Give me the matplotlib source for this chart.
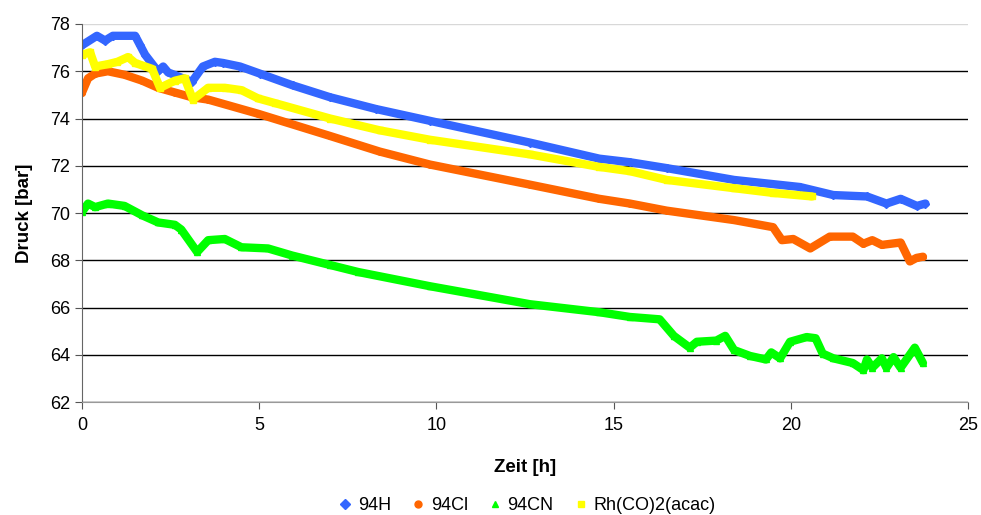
import matplotlib.pyplot as plt
from matplotlib.lines import Line2D

plt.rcParams["font.family"] = ["Liberation Sans", "DejaVu Sans"]

# readings, time in h, pressure in bar
t_94h = [0, 0.42, 0.65, 0.87, 1.5, 1.64, 1.78, 2.14, 2.29, 2.43, 2.62, 3.1, 3.41, 3.75,
         3.98, 4.46, 5.02, 5.95, 7.0, 8.3, 9.82, 12.64, 14.6, 15.46, 16.5, 18.4, 20.26,
         21.2, 22.15, 22.7, 23.1, 23.56, 23.8]
p_94h = [77.1, 77.5, 77.3, 77.5, 77.5, 77.1, 76.7, 76.0, 76.2, 75.95, 75.84, 75.55, 76.2,
         76.4, 76.35, 76.2, 75.9, 75.4, 74.9, 74.4, 73.9, 72.98, 72.3, 72.15, 71.9, 71.4,
         71.1, 70.76, 70.7, 70.4, 70.6, 70.3, 70.4]

t_94cl = [0, 0.17, 0.37, 0.73, 1.2, 1.7, 2.15, 2.62, 3.1, 3.56, 4.03, 4.97, 7.0, 8.4,
          9.82, 12.64, 14.6, 15.46, 16.5, 18.4, 19.5, 19.75, 20.07, 20.55, 21.1, 21.75,
          22.05, 22.3, 22.57, 23.1, 23.36, 23.55, 23.73]
p_94cl = [75.1, 75.7, 75.9, 76.0, 75.85, 75.6, 75.3, 75.1, 74.9, 74.8, 74.6, 74.2, 73.26,
          72.6, 72.05, 71.2, 70.6, 70.4, 70.1, 69.7, 69.4, 68.85, 68.9, 68.5, 69.0, 69.0,
          68.7, 68.85, 68.65, 68.75, 67.95, 68.1, 68.15]

t_94cn = [0, 0.17, 0.37, 0.73, 1.2, 1.7, 2.15, 2.62, 2.8, 3.25, 3.56, 4.03, 4.5, 5.25,
          5.93, 7.0, 7.8, 9.82, 12.64, 14.6, 15.46, 16.3, 16.7, 17.15, 17.35, 17.9, 18.15,
          18.4, 18.85, 19.3, 19.45, 19.7, 19.98, 20.45, 20.7, 20.9, 21.2, 21.75, 22.05,
          22.15, 22.3, 22.57, 22.7, 22.9, 23.1, 23.5, 23.73]
p_94cn = [70.05, 70.4, 70.25, 70.4, 70.3, 69.9, 69.6, 69.5, 69.3, 68.35, 68.85, 68.9,
          68.55, 68.5, 68.2, 67.8, 67.5, 66.9, 66.14, 65.8, 65.6, 65.5, 64.8, 64.3, 64.55,
          64.6, 64.8, 64.2, 63.95, 63.8, 64.1, 63.85, 64.55, 64.75, 64.7, 64.05, 63.85,
          63.65, 63.35, 63.8, 63.45, 63.85, 63.45, 63.9, 63.45, 64.3, 63.65]

t_rh = [0, 0.23, 0.37, 0.73, 1.0, 1.3, 1.5, 1.98, 2.2, 2.62, 2.9, 3.13, 3.56, 4.03, 4.5,
        4.97, 5.45, 7.0, 8.4, 9.82, 12.64, 14.6, 15.46, 16.5, 18.4, 19.5, 20.6]
p_rh = [76.7, 76.8, 76.2, 76.3, 76.4, 76.6, 76.35, 76.1, 75.3, 75.6, 75.7, 74.8, 75.3,
        75.3, 75.2, 74.85, 74.65, 74.0, 73.5, 73.1, 72.48, 71.95, 71.77, 71.4, 71.05,
        70.85, 70.7]

series = [
    ("94H", t_94h, p_94h, "#3366FF", "D"),
    ("94Cl", t_94cl, p_94cl, "#FF6600", "o"),
    ("94CN", t_94cn, p_94cn, "#00FF00", "^"),
    ("Rh(CO)2(acac)", t_rh, p_rh, "#FFFF00", "s"),
]

fig = plt.figure(figsize=(9.81, 5.15), dpi=100)
ax = fig.add_axes([0.0836, 0.2194, 0.9031, 0.734])

for name, t, p, col, m in series:
    ax.plot(t, p, color=col, lw=6, marker=m, ms=4, mec=col, solid_capstyle="round",
            solid_joinstyle="round")

ax.set_xlim(0, 25)
ax.set_ylim(62, 78)
ax.set_xticks(range(0, 26, 5))
ax.set_yticks(range(62, 79, 2))
ax.tick_params(labelsize=13, direction="out", length=5, color="#555555")
ax.tick_params(axis="x", pad=6)
ax.yaxis.grid(True, color="black", lw=1)
ax.get_ygridlines()[-1].set_color("#d8d8d8")
ax.set_axisbelow(True)
for s in ["top", "right"]:
    ax.spines[s].set_visible(False)
ax.spines["left"].set_color("#666666")
ax.spines["bottom"].set_color("#999999")

ax.set_xlabel("Zeit [h]", fontsize=13.5, fontweight="bold", labelpad=18)
ax.set_ylabel("Druck [bar]", fontsize=13.5, fontweight="bold", labelpad=12)

handles = [Line2D([], [], ls="", marker=m, color=col, ms=5) for _, _, _, col, m in series]
labels = [s[0] for s in series]
ax.legend(handles, labels, loc="center", ncol=4, frameon=False, fontsize=13,
          handletextpad=0.1, columnspacing=0.9, handlelength=1.2,
          bbox_to_anchor=(0.5, -0.275))

fig.savefig("out.png", dpi=100)
